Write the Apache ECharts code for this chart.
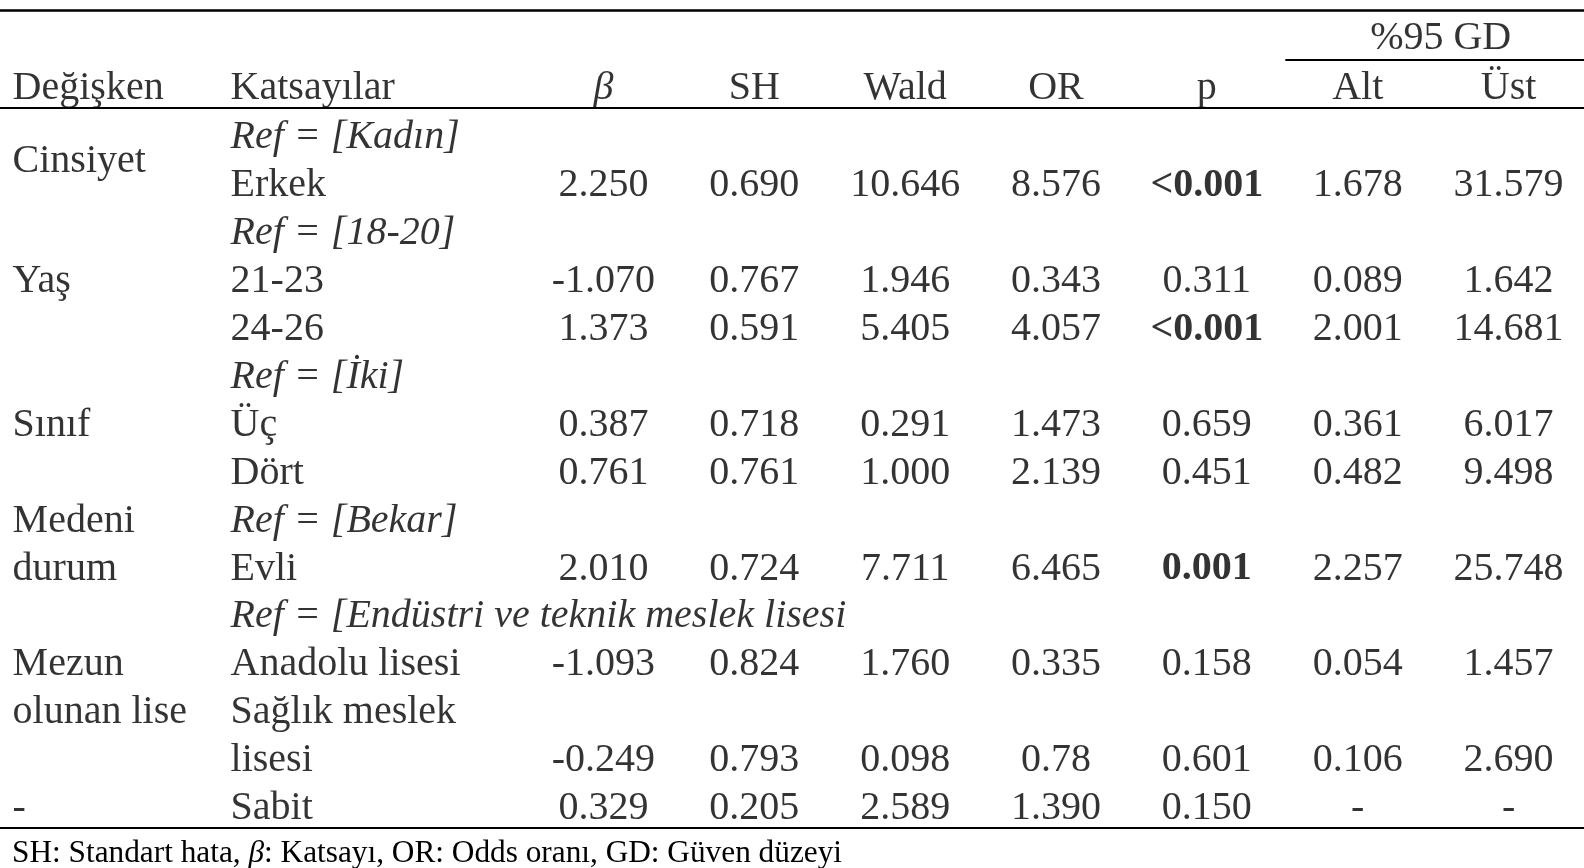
<!DOCTYPE html>
<html>
<head>
<meta charset="utf-8">
<script src="https://cdn.jsdelivr.net/npm/echarts@6/dist/echarts.min.js"></script>
<style>
  html, body { margin: 0; padding: 0; background: #fff; }
  #chart { width: 1584px; height: 868px; }
</style>
</head>
<body>
<div id="chart"></div>
<script>
// ---------- DATA ----------
const headers = ['Değişken', 'Katsayılar', 'β', 'SH', 'Wald', 'OR', 'p', 'Alt', 'Üst'];
const ciHeader = '%95 GD';
const coefficients = ['Ref = [Kadın]', 'Erkek', 'Ref = [18-20]', '21-23', '24-26', 'Ref = [İki]', 'Üç', 'Dört',
  'Ref = [Bekar]', 'Evli', 'Ref = [Endüstri ve teknik meslek lisesi', 'Anadolu lisesi', 'Sağlık meslek', 'lisesi', 'Sabit'];
const beta      = ['', '2.250',  '', '-1.070', '1.373',  '', '0.387', '0.761', '', '2.010',  '', '-1.093', '', '-0.249', '0.329'];
const se        = ['', '0.690',  '', '0.767',  '0.591',  '', '0.718', '0.761', '', '0.724',  '', '0.824',  '', '0.793',  '0.205'];
const wald      = ['', '10.646', '', '1.946',  '5.405',  '', '0.291', '1.000', '', '7.711',  '', '1.760',  '', '0.098',  '2.589'];
const oddsRatio = ['', '8.576',  '', '0.343',  '4.057',  '', '1.473', '2.139', '', '6.465',  '', '0.335',  '', '0.78',   '1.390'];
const pValue    = ['', '<0.001', '', '0.311',  '<0.001', '', '0.659', '0.451', '', '0.001',  '', '0.158',  '', '0.601',  '0.150'];
const ciLower   = ['', '1.678',  '', '0.089',  '2.001',  '', '0.361', '0.482', '', '2.257',  '', '0.054',  '', '0.106',  '-'];
const ciUpper   = ['', '31.579', '', '1.642',  '14.681', '', '6.017', '9.498', '', '25.748', '', '1.457',  '', '2.690',  '-'];
const significantRows = [1, 4, 9];
const variableNames = ['Cinsiyet', 'Yaş', 'Sınıf', 'Medeni', 'durum', 'Mezun', 'olunan lise', '-'];
const variableRows  = [0.5, 3, 6, 8, 9, 11, 12, 14];
const footnote = ['SH: Standart hata, ', 'β', ': Katsayı, OR: Odds oranı, GD: Güven düzeyi'];

// ---------- LAYOUT ----------
const FONT = '"Liberation Serif", "Times New Roman", Times, serif';
const FS = 40;
const textCols = [-3.92, -2.475];      // left edges of Değişken / Katsayılar columns (x-axis units)
const numericCols = [beta, se, wald, oddsRatio, pValue, ciLower, ciUpper];
const HEADER_ROW = -1.03, CI_ROW = -2.08;

const items = [];
function leftItem(x, y, text, extra) {
  items.push({ value: [x, y], name: text,
    label: Object.assign({ position: 'right', distance: 0, align: 'left' }, extra || {}) });
}
function centerItem(x, y, text, extra) {
  items.push({ value: [x, y], name: text,
    label: Object.assign({ position: 'inside', align: 'center' }, extra || {}) });
}

// headers
leftItem(textCols[0], HEADER_ROW, headers[0]);
leftItem(textCols[1], HEADER_ROW, headers[1]);
headers.slice(2).forEach((h, i) => centerItem(i, HEADER_ROW, h, h === 'β' ? { fontStyle: 'italic' } : {}));
centerItem(5.55, CI_ROW, ciHeader);

// variables
variableNames.forEach((v, i) => leftItem(textCols[0], variableRows[i], v));
// coefficients
coefficients.forEach((c, r) => leftItem(textCols[1], r, c, c.indexOf('Ref') === 0 ? { fontStyle: 'italic' } : {}));
// numeric columns
numericCols.forEach((col, ci) => {
  col.forEach((v, r) => {
    if (v === '') return;
    const bold = (col === pValue && significantRows.indexOf(r) >= 0);
    centerItem(ci, r, v, bold ? { fontWeight: 'bold' } : {});
  });
});

const chart = echarts.init(document.getElementById('chart'), null, { renderer: 'canvas' });
chart.setOption({
  animation: false,
  backgroundColor: '#fff',
  title: {
    left: 12, top: 838, padding: 0,
    text: '{n|' + footnote[0] + '}{i|' + footnote[1] + '}{n|' + footnote[2] + '}',
    textStyle: {
      fontWeight: 'normal',
      rich: {
        n: { fontFamily: FONT, fontSize: 31.3, color: '#000', fontWeight: 'normal' },
        i: { fontFamily: FONT, fontSize: 31.3, color: '#000', fontWeight: 'normal', fontStyle: 'italic' }
      }
    }
  },
  grid: { left: 0, right: 0, top: 2.7, bottom: 3.1, containLabel: false },
  xAxis: { type: 'value', min: -4, max: 6.5, show: false },
  yAxis: { type: 'value', min: -2.75, max: 15.25, inverse: true, show: false },
  series: [{
    type: 'scatter',
    symbolSize: 1,
    itemStyle: { color: 'transparent' },
    silent: true,
    label: {
      show: true,
      formatter: p => p.name,
      fontFamily: FONT,
      fontSize: FS,
      color: '#000',
      verticalAlign: 'middle',
      offset: [0, 3.5]
    },
    data: items,
    markLine: {
      silent: true,
      symbol: ['none', 'none'],
      label: { show: false },
      lineStyle: { color: '#000', type: 'solid', width: 2 },
      data: [
        { yAxis: -2.6, lineStyle: { width: 2.5 } },
        { yAxis: -0.55 },
        { yAxis: 14.48 },
        [{ coord: [4.52, -1.55] }, { coord: [6.5, -1.55] }]
      ]
    }
  }]
});
</script>
</body>
</html>
